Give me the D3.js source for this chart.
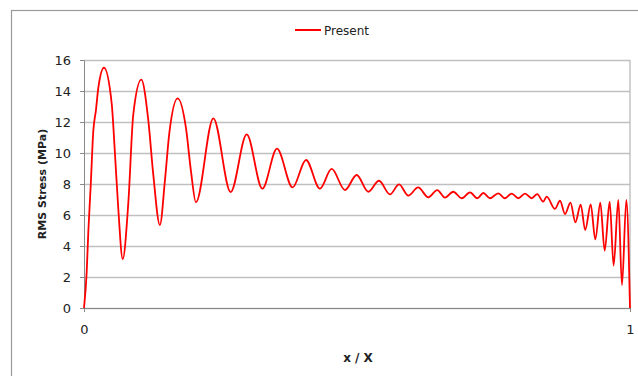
<!DOCTYPE html>
<html>
<head>
<meta charset="utf-8">
<script src="https://cdn.jsdelivr.net/npm/d3@7"></script>
<style>
  body { margin: 0; background: #fff; }
  text { font-family: "DejaVu Sans", Verdana, sans-serif; fill: #222; }
</style>
</head>
<body>
<svg></svg>
<script>
var W = 638, H = 376;
var margin = {top: 60, left: 84, bottom: 68, right: 8};
var width = W - margin.left - margin.right;
var height = H - margin.top - margin.bottom;

// data (x / X, RMS stress in MPa)
var xPos = [0, 0.0049, 0.0079, 0.0123, 0.017, 0.022, 0.0262, 0.0366,
  0.0507, 0.0568, 0.0628, 0.0709, 0.0812, 0.0903, 0.105,
  0.1178, 0.1269, 0.139, 0.1484, 0.1563, 0.1716, 0.1868, 0.196, 0.205,
  0.2369, 0.2686, 0.298, 0.3266, 0.3535,
  0.382, 0.4066, 0.432, 0.4536, 0.478, 0.4994, 0.5207, 0.5403, 0.5604, 0.577,
  0.594, 0.612, 0.6306, 0.647, 0.661, 0.6764, 0.6917, 0.707, 0.7204, 0.7314,
  0.7436, 0.7588, 0.771, 0.7833, 0.7955, 0.8077, 0.82, 0.830, 0.841, 0.8474,
  0.8626, 0.8718, 0.881, 0.891, 0.8999, 0.9097, 0.918, 0.928, 0.9365, 0.9456,
  0.9536, 0.9628, 0.970, 0.9786, 0.9853, 0.9933, 1.0];
var rms = [0, 2.3, 4.9, 7.9, 11.4, 12.8, 14.2, 15.5,
  13.2, 9.9, 6.4, 3.16, 6.8, 12.5, 14.73,
  12.1, 8.6, 5.35, 8.3, 11.3, 13.53, 11.6, 8.8, 6.82,
  12.24, 7.48, 11.2, 7.7, 10.28,
  7.78, 9.55, 7.7, 8.97, 7.61, 8.58, 7.5, 8.21, 7.33, 7.98,
  7.25, 7.78, 7.14, 7.61, 7.12, 7.5, 7.08, 7.46, 7.08, 7.42,
  7.08, 7.4, 7.08, 7.38, 7.08, 7.38, 7.08, 7.35, 6.86, 7.18,
  6.4, 6.92, 6.06, 6.8, 5.53, 6.67, 5.03, 6.69, 4.43, 6.8,
  3.7, 6.86, 2.73, 6.97, 1.48, 6.97, 0];

var yTicks = [0, 2, 4, 6, 8, 10, 12, 14, 16];
var xTicks = [0, 1];
var seriesName = "Present";

var svg = d3.select("svg").attr("width", W).attr("height", H);

// outer chart frame
svg.append("rect")
  .attr("x", 11.5).attr("y", 10.5)
  .attr("width", W).attr("height", H)
  .attr("fill", "none").attr("stroke", "#9a9a9a").attr("stroke-width", 1.2);

var g = svg.append("g")
  .attr("transform", "translate(" + margin.left + "," + margin.top + ")");

var x = d3.scaleLinear().domain([0, 1]).range([0, width]);
var y = d3.scaleLinear().domain([0, 16]).range([height, 0]);

// gridlines
g.append("g")
  .call(d3.axisLeft(y).tickValues(yTicks).tickSize(-width).tickFormat(""))
  .call(function (s) {
    s.select(".domain").remove();
    s.selectAll("line").attr("stroke", "#c0c0c0").attr("stroke-width", 1.6);
  });

// right border of plot area
g.append("line")
  .attr("x1", width).attr("x2", width)
  .attr("y1", 0).attr("y2", height)
  .attr("stroke", "#b4b4b4").attr("stroke-width", 1.2);

// y axis
g.append("g")
  .call(d3.axisLeft(y).tickValues(yTicks).tickSize(4).tickSizeOuter(0).tickPadding(9))
  .call(function (s) {
    s.select(".domain").attr("stroke", "#888");
    s.selectAll("line").attr("stroke", "#888");
    s.selectAll("text").attr("font-size", 13).attr("fill", "#222")
      .style("font-family", "'DejaVu Sans', sans-serif");
  });

// x axis
g.append("g")
  .attr("transform", "translate(0," + height + ")")
  .call(d3.axisBottom(x).tickValues(xTicks).tickFormat(d3.format("d"))
    .tickSize(4).tickSizeOuter(0).tickPadding(13))
  .call(function (s) {
    s.select(".domain").attr("stroke", "#888");
    s.selectAll("line").attr("stroke", "#888");
    s.selectAll("text").attr("font-size", 13).attr("fill", "#222")
      .style("font-family", "'DejaVu Sans', sans-serif");
  });

// series
var pts = xPos.map(function (d, i) { return [d, rms[i]]; });
g.append("path")
  .datum(pts)
  .attr("fill", "none")
  .attr("stroke", "#ff0000")
  .attr("stroke-width", 1.8)
  .attr("stroke-linejoin", "round")
  .attr("d", d3.line()
    .curve(d3.curveMonotoneX)
    .x(function (d) { return x(d[0]); })
    .y(function (d) { return y(d[1]); }));

// axis titles
svg.append("text")
  .attr("x", 358).attr("y", 361.5)
  .attr("text-anchor", "middle")
  .attr("font-size", 12).attr("font-weight", "bold")
  .text("x / X");

svg.append("text")
  .attr("transform", "translate(46,184) rotate(-90)")
  .attr("text-anchor", "middle")
  .attr("font-size", 11).attr("font-weight", "bold")
  .text("RMS Stress (MPa)");

// legend
svg.append("line")
  .attr("x1", 295).attr("x2", 321)
  .attr("y1", 30).attr("y2", 30)
  .attr("stroke", "#ff0000").attr("stroke-width", 2);
svg.append("text")
  .attr("x", 324).attr("y", 35)
  .attr("font-size", 12)
  .text(seriesName);
</script>
</body>
</html>
